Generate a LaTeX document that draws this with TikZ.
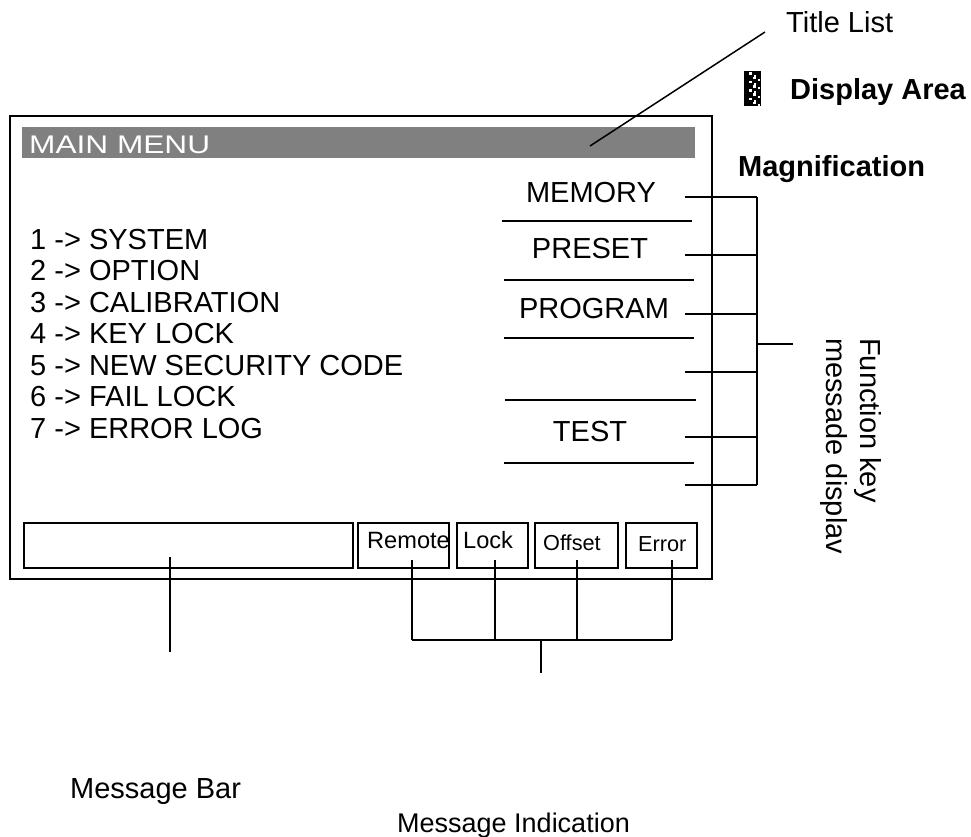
\documentclass[tikz,border=0pt]{standalone}
\usepackage{fontspec}
\usepackage{graphicx}
\setmainfont{Liberation Sans}
\definecolor{bargray}{RGB}{128,128,128}
\begin{document}
\begin{tikzpicture}[x=1pt,y=-1pt,
  ln/.style={line width=1.5pt},
  box/.style={draw, line width=1.6pt, inner sep=0pt, anchor=north west},
  txt/.style={inner sep=0pt, anchor=base west, font=\fontsize{29}{31.5}\selectfont},
  ctxt/.style={inner sep=0pt, anchor=base, font=\fontsize{29}{31.5}\selectfont},
  btxt/.style={inner sep=0pt, anchor=base west, font=\fontsize{29}{31.5}\selectfont\bfseries},
  ind/.style={inner sep=0pt, anchor=base west, font=\fontsize{23.6}{26}\selectfont},
  inds/.style={inner sep=0pt, anchor=base west, font=\fontsize{21.7}{24}\selectfont},
  sep/.style={line width=1.5pt}]
\useasboundingbox (0,0) rectangle (971,837);

% main display frame
\node[box, line width=1.8pt, minimum width=702pt, minimum height=463pt] (main) at (9,115) {};
% title bar
\node[fill=bargray, inner sep=0pt, anchor=north west, minimum width=673pt, minimum height=31pt] (bar) at (22,127) {};
\node[inner sep=0pt, anchor=base west, text=white, font=\fontsize{25.5}{28}\selectfont] (maintitle) at (29,154) {\scalebox{1.24}[1]{MAIN MENU}};

% menu entries
\node[txt] (m1) at (30,249) {1 -> SYSTEM};
\node[txt] (m2) at (30,280) {2 -> OPTION};
\node[txt] (m3) at (30,312) {3 -> CALIBRATION};
\node[txt] (m4) at (30,343.5) {4 -> KEY LOCK};
\node[txt] (m5) at (30,375) {5 -> NEW SECURITY CODE};
\node[txt] (m6) at (30,406.5) {6 -> FAIL LOCK};
\node[txt] (m7) at (30,438) {7 -> ERROR LOG};

% function key texts
\node[ctxt] (fmem) at (591,203) {MEMORY};
\node[ctxt] (fpre) at (590,258) {PRESET};
\node[ctxt] (fprg) at (594,318) {PROGRAM};
\node[ctxt] (ftst) at (590,441) {TEST};
\draw[sep] (502,221) -- (692,221);
\draw[sep] (504,280) -- (694,280);
\draw[sep] (504,338) -- (694,338);
\draw[sep] (505,400) -- (696,400);
\draw[sep] (504,463) -- (694,463);

% function key bracket
\coordinate (s1) at (685,197); \coordinate (b1) at (757,197);
\coordinate (s2) at (685,255); \coordinate (b2) at (757,255);
\coordinate (s3) at (685,314); \coordinate (b3) at (757,314);
\coordinate (s4) at (685,372); \coordinate (b4) at (757,372);
\coordinate (s5) at (685,437); \coordinate (b5) at (757,437);
\coordinate (s6) at (685,485); \coordinate (b6) at (757,485);
\coordinate (bm) at (757,344); \coordinate (bo) at (793,344);
\draw[ln] (s1) -- (b1) (s2) -- (b2) (s3) -- (b3) (s4) -- (b4) (s5) -- (b5) (s6) -- (b6);
\draw[ln] (b1) -- (b6);
\draw[ln] (bm) -- (bo);
\node[txt, rotate=-90] (fkl1) at (860,338) {Function key};
\node[txt, rotate=-90] (fkl2) at (826,338) {messade displav};

% bottom bar
\node[box, minimum width=329pt, minimum height=45pt] (mbar) at (23,522) {};
\node[box, minimum width=91pt, minimum height=45pt] (remote) at (357,522) {};
\node[box, minimum width=71pt, minimum height=45pt] (lock) at (456,522) {};
\node[box, minimum width=83pt, minimum height=45pt] (offset) at (534,522) {};
\node[box, minimum width=71pt, minimum height=45pt] (error) at (625,522) {};
\node[ind] (tremote) at (367,548) {Remote};
\node[ind] (tlock) at (463,548) {Lock};
\node[inds] (toffset) at (543,550) {Offset};
\node[inds] (terror) at (638,551) {Error};

% indicator connectors
\coordinate (r1) at (412,560); \coordinate (r2) at (412,640);
\coordinate (l1) at (495,560); \coordinate (l2) at (495,640);
\coordinate (o1) at (577,560); \coordinate (o2) at (577,640);
\coordinate (e1) at (672,560); \coordinate (e2) at (672,640);
\coordinate (im) at (541,640); \coordinate (io) at (541,673);
\draw[ln] (r1) -- (r2) (l1) -- (l2) (o1) -- (o2) (e1) -- (e2);
\draw[ln] (r2) -- (e2);
\draw[ln] (im) -- (io);

% message bar connector
\coordinate (mb1) at (170,557); \coordinate (mb2) at (170,652);
\draw[ln] (mb1) -- (mb2);

% labels
\node[txt] (lmbar) at (70,798) {Message Bar};
\node[inner sep=0pt, anchor=base west, font=\fontsize{27}{30}\selectfont] (lmind) at (397,832) {Message Indication};
\node[txt] (ltitle) at (786,33) {Title List};
\node[btxt] (ldisp) at (790,100) {Display Area};
\node[btxt] (lmag) at (738,177) {Magnification};

% title leader
\coordinate (tl1) at (765,32); \coordinate (tl2) at (590,146);
\draw[ln] (tl1) -- (tl2);

% display area icon
\fill[black] (744,71) rectangle (761,106);
\foreach \i in {0,...,7} {
  \pgfmathsetmacro{\yy}{72.5+\i*4.2}
  \pgfmathsetmacro{\xx}{mod(\i,2)==0 ? 748.5 : 752.5}
  \fill[white] (\xx,\yy) rectangle ++(3,2.6);
  \fill[white] (\xx+5.5,\yy+2.1) rectangle ++(2.4,2.1);
}
\end{tikzpicture}
\end{document}
